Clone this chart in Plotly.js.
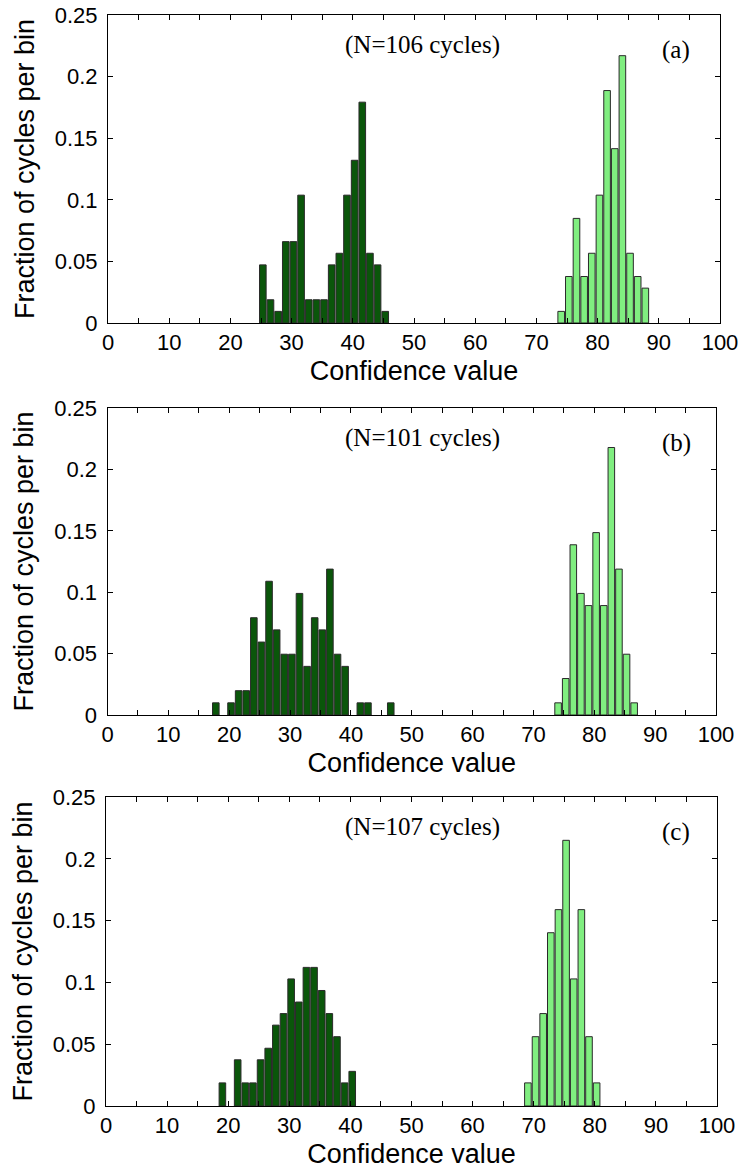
<!DOCTYPE html>
<html>
<head>
<meta charset="utf-8">
<script src="https://cdn.plot.ly/plotly-3.0.1.min.js"></script>
<style>
  html, body { margin: 0; padding: 0; background: #ffffff; }
  #chart { width: 740px; height: 1171px; }
</style>
</head>
<body>
<div id="chart"></div>
<script>
// ---- Data (bin centres and counts per bin) ----
const aDarkX = [25.3, 26.55, 27.8, 29.05, 30.3, 31.55, 32.8, 34.05, 35.3, 36.55, 37.8, 39.05, 40.3, 41.55, 42.8, 44.05, 45.3];
const aDarkCount = [5, 2, 1, 7, 7, 11, 2, 2, 2, 5, 6, 11, 14, 19, 6, 5, 1];
const aLightX = [74.05, 75.3, 76.55, 77.8, 79.05, 80.3, 81.55, 82.8, 84.05, 85.3, 86.55, 87.8];
const aLightCount = [1, 4, 9, 4, 6, 11, 20, 15, 23, 6, 4, 3];
const aN = 106;

const bDarkX = [17.8, 20.3, 21.55, 22.8, 24.05, 25.3, 26.55, 27.8, 29.05, 30.3, 31.55, 32.8, 34.05, 35.3, 36.55, 37.8, 39.05, 41.55, 42.8, 46.55];
const bDarkCount = [1, 1, 2, 2, 8, 6, 11, 7, 5, 5, 10, 4, 8, 7, 12, 5, 4, 1, 1, 1];
const bLightX = [74.05, 75.3, 76.55, 77.8, 79.05, 80.3, 81.55, 82.8, 84.05, 85.3, 86.55];
const bLightCount = [1, 3, 14, 10, 9, 15, 9, 22, 12, 5, 1];
const bN = 101;

const cDarkX = [19.05, 21.55, 22.8, 24.05, 25.3, 26.55, 27.8, 29.05, 30.3, 31.55, 32.8, 34.05, 35.3, 36.55, 37.8, 39.05, 40.3];
const cDarkCount = [2, 4, 2, 2, 4, 5, 7, 8, 11, 9, 12, 12, 10, 8, 6, 2, 3];
const cLightX = [69.05, 70.3, 71.55, 72.8, 74.05, 75.3, 76.55, 77.8, 79.05, 80.3];
const cLightCount = [2, 6, 8, 15, 17, 23, 11, 17, 6, 2];
const cN = 107;

const panelLabels = ['(a)', '(b)', '(c)'];
const nLabels = ['(N=106 cycles)', '(N=101 cycles)', '(N=107 cycles)'];
const xTitle = 'Confidence value';
const yTitle = 'Fraction of cycles per bin';

// ---- Styling ----
const DARK = '#0a560a';
const LIGHT = '#80ee80';
const EDGE = '#2a2a2a';
const BARW = 1.08;
const SANS = 'Liberation Sans, Arial, Helvetica, sans-serif';
const SERIF = 'Liberation Serif, Times New Roman, serif';

// page geometry
const W = 740, H = 1171;
const M = { l: 100, r: 15, t: 10, b: 60 };
const PW = W - M.l - M.r, PH = H - M.t - M.b;
const px2x = p => (p - M.l) / PW;
const px2y = p => (H - M.b - p) / PH;

const panels = [
  { dx: aDarkX, dc: aDarkCount, lx: aLightX, lc: aLightCount, n: aN, left: 108, right: 720, top: 15, bottom: 323 },
  { dx: bDarkX, dc: bDarkCount, lx: bLightX, lc: bLightCount, n: bN, left: 107.5, right: 716, top: 408, bottom: 715 },
  { dx: cDarkX, dc: cDarkCount, lx: cLightX, lc: cLightCount, n: cN, left: 106, right: 717, top: 797, bottom: 1106 }
];

const traces = [];
const layout = {
  width: W, height: H,
  margin: M,
  paper_bgcolor: '#ffffff',
  plot_bgcolor: '#ffffff',
  showlegend: false,
  bargap: 0,
  barmode: 'overlay',
  font: { family: SANS, color: '#000000' },
  annotations: []
};

panels.forEach((p, i) => {
  const sfx = i === 0 ? '' : String(i + 1);
  const xa = 'x' + sfx, ya = 'y' + sfx;
  [[p.dx, p.dc, DARK], [p.lx, p.lc, LIGHT]].forEach(([xs, cs, col]) => {
    traces.push({
      type: 'bar',
      x: xs,
      y: cs.map(c => c / p.n),
      width: BARW,
      xaxis: xa, yaxis: ya,
      marker: { color: col, line: { color: EDGE, width: 1 } },
      hoverinfo: 'x+y'
    });
  });

  layout['xaxis' + sfx] = {
    domain: [px2x(p.left), px2x(p.right)],
    anchor: ya,
    range: [0, 100],
    dtick: 10, tick0: 0,
    ticks: 'inside', ticklen: 5, tickwidth: 1, tickcolor: '#000',
    minor: { dtick: 5, ticks: 'inside', ticklen: 5, tickwidth: 1, tickcolor: '#000' },
    showline: true, linecolor: '#000', linewidth: 1, mirror: 'ticks',
    showgrid: false, zeroline: false,
    tickfont: { family: SANS, size: 22, color: '#000' },
    ticklabelstandoff: 0,
    title: { text: xTitle, font: { family: SANS, size: 27, color: '#000' }, standoff: 6 }
  };
  layout['yaxis' + sfx] = {
    domain: [px2y(p.bottom), px2y(p.top)],
    anchor: xa,
    range: [0, 0.25],
    dtick: 0.05, tick0: 0,
    ticks: 'inside', ticklen: 5, tickwidth: 1, tickcolor: '#000',
    showline: true, linecolor: '#000', linewidth: 1, mirror: 'ticks',
    showgrid: false, zeroline: false,
    tickfont: { family: SANS, size: 22, color: '#000' },
    ticklabelstandoff: 5,
    title: { text: yTitle, font: { family: SANS, size: 27, color: '#000' }, standoff: 12 }
  };

  layout.annotations.push({
    text: nLabels[i], xref: 'paper', yref: 'paper',
    x: px2x(343), y: px2y(p.top + 30), xanchor: 'left', yanchor: 'middle',
    showarrow: false, font: { family: SERIF, size: 25, color: '#000' }
  });
  layout.annotations.push({
    text: panelLabels[i], xref: 'paper', yref: 'paper',
    x: px2x(676), y: px2y(p.top + 35), xanchor: 'center', yanchor: 'middle',
    showarrow: false, font: { family: SERIF, size: 25, color: '#000' }
  });
});

Plotly.newPlot('chart', traces, layout, { staticPlot: true, displayModeBar: false });
</script>
</body>
</html>
